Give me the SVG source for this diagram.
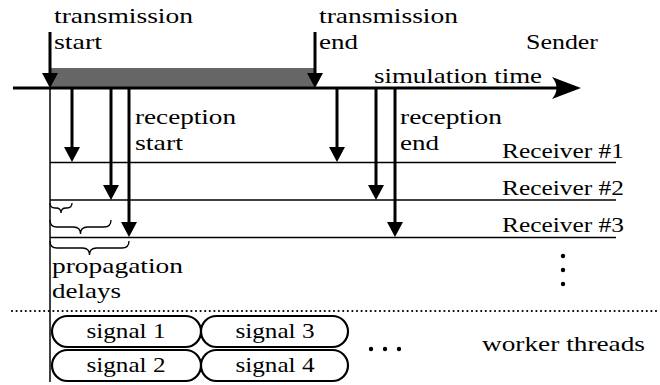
<svg xmlns="http://www.w3.org/2000/svg" width="660" height="385" viewBox="0 0 660 385">
<style>
.t{font-size:21px;fill:#000}
.c{text-anchor:middle}
.arr{stroke:#000;stroke-width:3;fill:none}
.head{fill:#000}
.box{fill:#fff;stroke:#000;stroke-width:2.2}
.thin{stroke:#000;stroke-width:1.5;fill:none}
.brace{stroke:#000;stroke-width:1.3;fill:none}
</style>
<defs>
<path id="ah" d="M-8,-15 L8,-15 L0,0 Z"/>
</defs>
<rect width="660" height="385" fill="#fff"/>
<g id="tx-bar"><rect x="50" y="68" width="265" height="19" fill="#666"/></g>
<g id="connectors">
<line class="thin" x1="50" y1="88" x2="50" y2="382"/>
<line class="thin" x1="50" y1="162.5" x2="616" y2="162.5"/>
<line class="thin" x1="50" y1="200" x2="616" y2="200"/>
<line class="thin" x1="50" y1="237.5" x2="616" y2="237.5"/>
<line class="arr" x1="13" y1="88" x2="560" y2="88"/>
<path class="head" d="M552,77 L581,88 L552,99 Q561,88 552,77 Z"/>
<line class="arr" x1="50" y1="32" x2="50" y2="76"/>
<use href="#ah" class="head" x="50" y="88"/>
<line class="arr" x1="315" y1="32" x2="315" y2="76"/>
<use href="#ah" class="head" x="315" y="88"/>
<line class="arr" x1="72" y1="88" x2="72" y2="150"/>
<use href="#ah" class="head" x="72" y="162"/>
<line class="arr" x1="111" y1="88" x2="111" y2="188"/>
<use href="#ah" class="head" x="111" y="200"/>
<line class="arr" x1="129" y1="88" x2="129" y2="225"/>
<use href="#ah" class="head" x="129" y="237"/>
<line class="arr" x1="337" y1="88" x2="337" y2="150"/>
<use href="#ah" class="head" x="337" y="162"/>
<line class="arr" x1="376" y1="88" x2="376" y2="188"/>
<use href="#ah" class="head" x="376" y="200"/>
<line class="arr" x1="395" y1="88" x2="395" y2="225"/>
<use href="#ah" class="head" x="395" y="237"/>
<line x1="12" y1="311" x2="660" y2="311" stroke="#000" stroke-width="2.2" stroke-linecap="round" stroke-dasharray="0 4.6"/>
</g>
<g id="braces">
<path class="brace" d="M50,203 Q50,208 55,208 L56,208 Q61,208 61,213 Q61,208 66,208 L67,208 Q72,208 72,203"/>
<path class="brace" d="M50,220 Q50,227 57,227 L73.5,227 Q80.5,227 80.5,234 Q80.5,227 87.5,227 L104,227 Q111,227 111,220"/>
<path class="brace" d="M50,241 Q50,248 57,248 L82.5,248 Q89.5,248 89.5,255 Q89.5,248 96.5,248 L122,248 Q129,248 129,241"/>
</g>
<g id="labels" font-family="Liberation Serif, Times New Roman, serif">
<text class="t" x="54" y="23" textLength="139" lengthAdjust="spacingAndGlyphs">transmission</text>
<text class="t" x="54" y="49" textLength="48" lengthAdjust="spacingAndGlyphs">start</text>
<text class="t" x="319" y="23" textLength="139" lengthAdjust="spacingAndGlyphs">transmission</text>
<text class="t" x="319" y="49" textLength="39" lengthAdjust="spacingAndGlyphs">end</text>
<text class="t" x="526" y="49" textLength="72" lengthAdjust="spacingAndGlyphs">Sender</text>
<text class="t" x="374" y="83" textLength="168" lengthAdjust="spacingAndGlyphs">simulation time</text>
<text class="t" x="135" y="124" textLength="101" lengthAdjust="spacingAndGlyphs">reception</text>
<text class="t" x="135" y="150" textLength="48" lengthAdjust="spacingAndGlyphs">start</text>
<text class="t" x="400" y="124" textLength="102" lengthAdjust="spacingAndGlyphs">reception</text>
<text class="t" x="400" y="150" textLength="39" lengthAdjust="spacingAndGlyphs">end</text>
<text class="t" x="502" y="158" textLength="122" lengthAdjust="spacingAndGlyphs">Receiver #1</text>
<text class="t" x="502" y="195" textLength="122" lengthAdjust="spacingAndGlyphs">Receiver #2</text>
<text class="t" x="502" y="232" textLength="122" lengthAdjust="spacingAndGlyphs">Receiver #3</text>
<text class="t" x="52" y="273" textLength="131" lengthAdjust="spacingAndGlyphs">propagation</text>
<text class="t" x="52" y="298" textLength="69" lengthAdjust="spacingAndGlyphs">delays</text>
<text class="t" x="482" y="351" textLength="163" lengthAdjust="spacingAndGlyphs">worker threads</text>
</g>
<g id="vdots"><circle cx="563" cy="256" r="2.2"/><circle cx="563" cy="270" r="2.2"/><circle cx="563" cy="284" r="2.2"/></g>
<g id="hdots"><circle cx="371" cy="349" r="2.2"/><circle cx="385" cy="349" r="2.2"/><circle cx="399" cy="349" r="2.2"/></g>
<g id="signal1" font-family="Liberation Serif, serif"><rect class="box" x="52" y="316" width="149" height="31" rx="15.5"/><text class="t c" x="126" y="338" textLength="79" lengthAdjust="spacingAndGlyphs">signal 1</text></g>
<g id="signal3" font-family="Liberation Serif, serif"><rect class="box" x="201" y="316" width="147" height="31" rx="15.5"/><text class="t c" x="275" y="338" textLength="79" lengthAdjust="spacingAndGlyphs">signal 3</text></g>
<g id="signal2" font-family="Liberation Serif, serif"><rect class="box" x="52" y="350" width="149" height="31" rx="15.5"/><text class="t c" x="126" y="372" textLength="79" lengthAdjust="spacingAndGlyphs">signal 2</text></g>
<g id="signal4" font-family="Liberation Serif, serif"><rect class="box" x="201" y="350" width="147" height="31" rx="15.5"/><text class="t c" x="275" y="372" textLength="79" lengthAdjust="spacingAndGlyphs">signal 4</text></g>
</svg>
